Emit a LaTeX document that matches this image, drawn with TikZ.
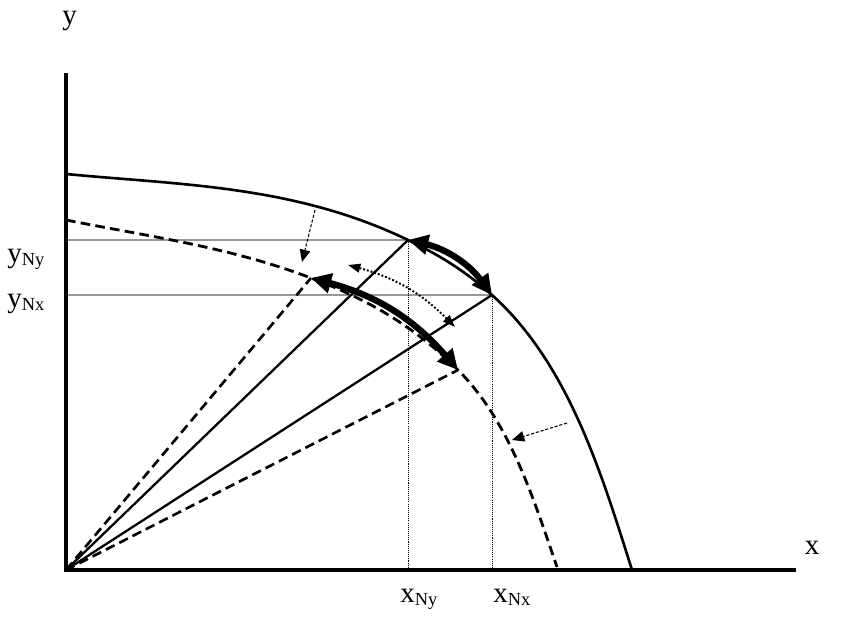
\documentclass[tikz,border=0pt]{standalone}
\usepackage{fontspec}
\setmainfont{Liberation Serif}
\usetikzlibrary{arrows.meta}

\newcommand{\sublab}[2]{#1\raisebox{-1.5pt}{\fontsize{10.5}{12}\selectfont #2}}

\begin{document}
\begin{tikzpicture}[x=0.02cm, y=0.02cm,
	axisline/.style={line width=1.9pt, line join=miter},
	frontier/.style={line width=1.5pt},
	shifted/.style={line width=1.6pt, dash pattern=on 5.5pt off 3pt},
	ray/.style={line width=1.3pt},
	dray/.style={line width=1.5pt, dash pattern=on 5.5pt off 3pt},
	guide/.style={gray!80, line width=0.6pt},
	drop/.style={line width=0.5pt, dash pattern=on 0.6pt off 0.6pt},
	bigmove/.style={line width=3.6pt, {Triangle[length=11.5pt,width=11pt]}-{Triangle[length=11.5pt,width=11pt]}},
	nudge/.style={line width=0.6pt, dash pattern=on 1.8pt off 1pt, -{Triangle[length=7pt,width=6pt]}},
	swing/.style={line width=1.1pt, dash pattern=on 1.1pt off 1.1pt, {Triangle[length=7pt,width=5pt]}-{Triangle[length=7pt,width=5pt]}},
	lab/.style={font=\fontsize{16.5}{20}\selectfont, inner sep=0pt}]
	\useasboundingbox (-66,-48) rectangle (776,570);
	\coordinate (O) at (0,0);
	\coordinate (ytop) at (0,497);
	\coordinate (xend) at (730,0);
	\coordinate (P) at (342,330);
	\coordinate (Q) at (426,275);
	\coordinate (S) at (245,292);
	\coordinate (T) at (392,200);
	% guide lines to the axes
	\draw[guide] (O |- P) -- (P);
	\draw[guide] (O |- Q) -- (Q);
	\draw[drop] (P) -- (P |- O);
	\draw[drop] (Q) -- (Q |- O);
	% frontiers
	\draw[frontier] (0,396) .. controls (114,385) and (228,385) .. (P)
		.. controls (370,316.6) and (398,300.2) .. (Q)
		.. controls (502.5,206) and (535,98) .. (566,0);
	\draw[shifted] (0,350) .. controls (82,333.6) and (163,323.2) .. (S)
		.. controls (294,273.4) and (343,249) .. (T)
		.. controls (443.6,148.4) and (467.2,72) .. (491,3);
	% rays
	\draw[ray] (O) -- (P);
	\draw[ray] (O) -- (Q);
	\draw[dray] (O) -- (S);
	\draw[dray] (O) -- (T);
	\draw[axisline] (ytop) -- (O) -- (xend);
	% moves
	\draw[bigmove] (P) to[bend left=20] (Q);
	\draw[bigmove] (S) to[bend left=17] (T);
	\coordinate (D1) at (282,305);
	\coordinate (D2) at (389,243);
	\draw[swing] (D1) to[bend left=15] (D2);
	\coordinate (N1) at (249,360);
	\coordinate (M1) at (236,308);
	\coordinate (N2) at (501,147);
	\coordinate (M2) at (446,130);
	\draw[nudge] (N1) -- (M1);
	\draw[nudge] (N2) -- (M2);
	% labels
	\node[lab, anchor=base] (ylab) at (3.5,545) {y};
	\node[lab, anchor=base] (xlab) at (746,15) {x};
	\node[lab, anchor=base west] (yny) at (-59,307) {\sublab{y}{Ny}};
	\node[lab, anchor=base west] (ynx) at (-59,262) {\sublab{y}{Nx}};
	\node[lab, anchor=base west] (xny) at (334,-33) {\sublab{x}{Ny}};
	\node[lab, anchor=base west] (xnx) at (427,-33) {\sublab{x}{Nx}};
\end{tikzpicture}
\end{document}
